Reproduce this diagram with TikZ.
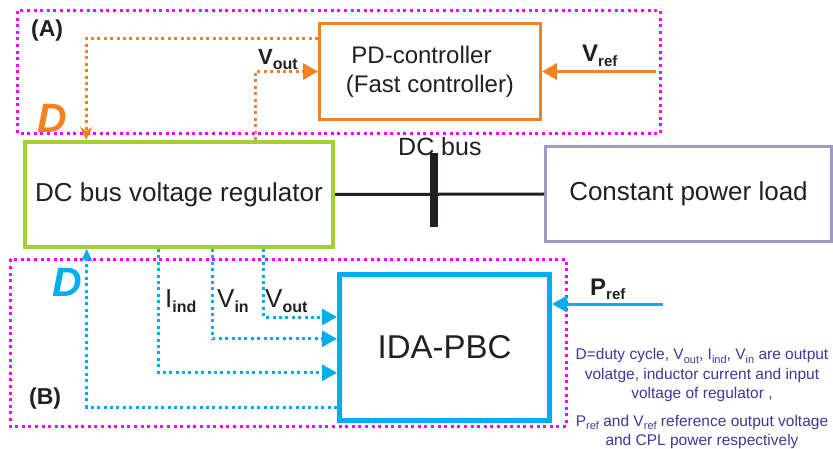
\documentclass[tikz,border=0pt]{standalone}
\usepackage{fontspec}
\setmainfont{Liberation Sans}
\usetikzlibrary{arrows.meta}
\definecolor{cOrange}{RGB}{245,130,32}
\definecolor{cGreen}{RGB}{166,206,57}
\definecolor{cPurple}{RGB}{158,154,200}
\definecolor{cBlue}{RGB}{0,174,239}
\definecolor{cMag}{RGB}{255,0,255}
\definecolor{cText}{RGB}{35,31,32}
\definecolor{cNote}{RGB}{58,58,150}
\newcommand{\lsub}[3]{\raisebox{-#2pt}{\fontsize{#1}{#1}\selectfont #3}}
\begin{document}
\begin{tikzpicture}[x=1pt,y=-1pt,
  box/.style={draw, rectangle, inner sep=0pt, text=cText, align=center},
  grp/.style={draw=cMag, line width=3pt, dash pattern=on 3pt off 3.6pt},
  odot/.style={draw=cOrange, line width=3pt, dash pattern=on 3pt off 3.4pt},
  bdot/.style={draw=cBlue, line width=3pt, dash pattern=on 3pt off 3.4pt},
  otip/.style={-{Triangle[length=15pt,width=16pt]}},
  stl/.style={-{Stealth[length=13pt,width=12pt,inset=4pt]}},
  lbl/.style={anchor=base west, inner sep=0pt, text=cText}
]
\useasboundingbox (0,0) rectangle (833,449);

% group frames
\draw[grp] (17.5,11) rectangle (660.5,133.3);
\draw[grp] (10,259.5) rectangle (566.5,426);

% boxes
\node[box, draw=cGreen, line width=4pt, minimum width=308pt, minimum height=105pt,
      font=\fontsize{26}{30}\selectfont] (reg) at (179,194.5) {DC bus voltage regulator};
\node[box, draw=cOrange, line width=3pt, minimum width=221pt, minimum height=96pt,
      font=\fontsize{24}{29}\selectfont] (pd) at (430,71.5) {PD-controller\hspace*{17pt}\\(Fast controller)};
\node[box, draw=cPurple, line width=3pt, minimum width=286pt, minimum height=95pt,
      font=\fontsize{26}{30}\selectfont] (load) at (688.5,194) {\raisebox{2.5pt}{Constant power load}};
\node[box, draw=cBlue, line width=5pt, minimum width=210pt, minimum height=146pt,
      font=\fontsize{33}{38}\selectfont] (ida) at (444.5,347.5) {IDA-PBC};

% DC bus
\node[fill=cText, inner sep=0pt, minimum width=8pt, minimum height=74pt] (bar) at (434,190) {};
\draw[cText, line width=3pt] (reg.east) -- (load.west);
\node[lbl, font=\fontsize{25}{28}\selectfont] (dcbus) at (398,156) {DC bus};

% orange loop (A)
\coordinate (vrefin) at (656,71.5);
\draw[cOrange, line width=3pt, otip] (vrefin) -- (pd.east);
\draw[odot, stl] ([yshift=-16.7pt]pd.north west) -| ([xshift=63.2pt]reg.north west);
\draw[odot, otip] ([xshift=232.5pt]reg.north west) |- (pd.west);

% blue loop (B)
\coordinate (prefin) at (663,304);
\draw[cBlue, line width=3pt, otip] (prefin) -- (prefin -| ida.east);
\draw[bdot, otip] ([xshift=240.8pt]reg.south west) |- ([yshift=-45pt]ida.north west);
\draw[bdot, otip] ([xshift=189.5pt]reg.south west) |- ([yshift=-66.8pt]ida.north west);
\draw[bdot, otip] ([xshift=135.5pt]reg.south west) |- ([yshift=-100.8pt]ida.north west);
\draw[bdot, stl] ([yshift=-135pt]ida.north west) -| ([xshift=63.7pt]reg.south west);

% labels
\node[lbl, font=\fontsize{23}{26}\selectfont\bfseries] (la) at (31,37) {(A)};
\node[lbl, font=\fontsize{23}{26}\selectfont\bfseries] (lb) at (29,404) {(B)};
\node[lbl, text=cOrange, font=\fontsize{41}{44}\selectfont\bfseries\itshape] (dA) at (37,133) {D};
\node[lbl, text=cBlue, font=\fontsize{41}{44}\selectfont\bfseries\itshape] (dB) at (52,297) {D};
\node[lbl, font=\fontsize{22}{26}\selectfont\bfseries] (voutA) at (258,65) {V\lsub{16}{5}{out}};
\node[lbl, font=\fontsize{24}{28}\selectfont\bfseries] (vref) at (582,62) {V\lsub{15}{4.5}{ref}};
\node[lbl, font=\fontsize{24}{28}\selectfont\bfseries] (pref) at (590,295) {P\lsub{15}{4.5}{ref}};
\node[lbl, font=\fontsize{26}{30}\selectfont] (iind) at (165,308) {I\lsub{16}{5}{\bfseries ind}};
\node[lbl, font=\fontsize{26}{30}\selectfont] (vin) at (217,308) {V\lsub{16}{5}{\bfseries in}};
\node[lbl, font=\fontsize{26}{30}\selectfont] (voutB) at (265,308) {V\lsub{16}{5}{\bfseries out}};

% note
\node[anchor=north, inner sep=0pt, align=center, text=cNote,
      font=\fontsize{15.5}{19.5}\selectfont] (note) at (702,348.5)
 {D=duty cycle, V\lsub{11}{3.5}{out}, I\lsub{11}{3.5}{ind}, V\lsub{11}{3.5}{in} are output\\
  volatge, inductor current and input\\
  voltage of regulator ,\\[8pt]
  P\lsub{11}{3.5}{ref} and V\lsub{11}{3.5}{ref} reference output voltage\\
  and CPL power respectively};
\end{tikzpicture}
\end{document}
